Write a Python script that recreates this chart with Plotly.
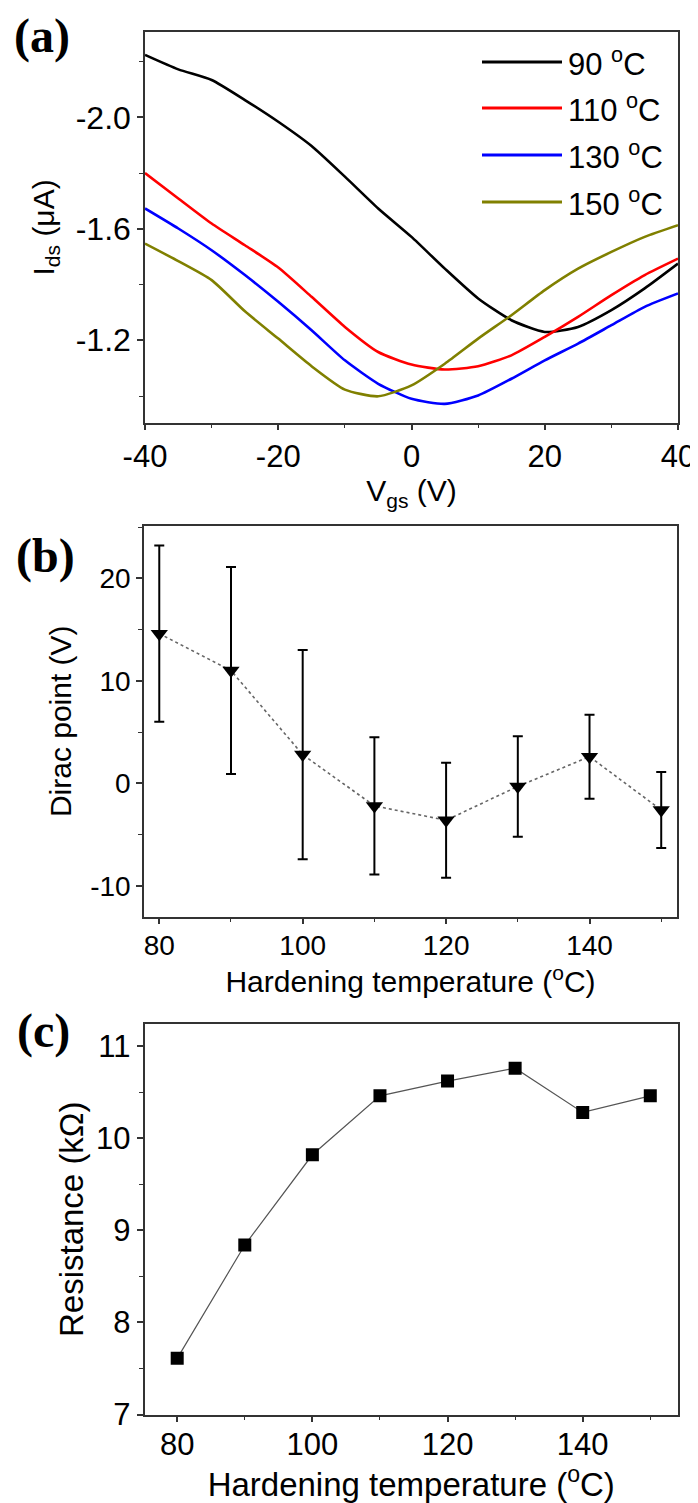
import plotly.graph_objects as go

# the page adds an 8 px body margin, so the figure is drawn 8 px smaller and all
# reference pixel positions are shifted by that offset
OFF = 8
W, H = 698 - OFF, 1503 - OFF

# ---------------- data ----------------
vgs = [-40, -35, -30, -25, -20, -15, -10, -5, 0, 5, 10, 15, 20, 25, 30, 35, 40]
ids_90 = [-2.224, -2.172, -2.134, -2.062, -1.984, -1.897, -1.787, -1.673, -1.571,
          -1.457, -1.350, -1.272, -1.230, -1.248, -1.308, -1.386, -1.475]
ids_110 = [-1.800, -1.709, -1.619, -1.541, -1.461, -1.356, -1.248, -1.158, -1.113,
           -1.095, -1.107, -1.146, -1.212, -1.284, -1.362, -1.434, -1.493]
ids_130 = [-1.673, -1.601, -1.523, -1.434, -1.338, -1.236, -1.128, -1.044, -0.990,
           -0.972, -1.002, -1.062, -1.128, -1.188, -1.254, -1.320, -1.368]
ids_150 = [-1.547, -1.484, -1.416, -1.304, -1.206, -1.107, -1.023, -0.999, -1.038,
           -1.116, -1.206, -1.290, -1.380, -1.457, -1.517, -1.571, -1.613]
series_names = ["90 <sup>o</sup>C", "110 <sup>o</sup>C", "130 <sup>o</sup>C", "150 <sup>o</sup>C"]
series_colors = ["#000000", "#ff0000", "#0000ff", "#808000"]

temps = [80, 90, 100, 110, 120, 130, 140, 150]
dirac = [14.6, 11.0, 2.8, -2.2, -3.6, -0.3, 2.6, -2.6]
dirac_err = [8.6, 10.1, 10.2, 6.7, 5.6, 4.9, 4.1, 3.7]
resistance = [7.61, 8.84, 9.82, 10.46, 10.62, 10.76, 10.28, 10.46]

# tick labels
a_xticks = [-40, -20, 0, 20, 40]
a_xlabels = ["-40", "-20", "0", "20", "40"]
a_yticks = [-2.0, -1.6, -1.2]
a_ylabels = ["-2.0", "-1.6", "-1.2"]
b_xticks = [80, 100, 120, 140]
b_yticks = [-10, 0, 10, 20]
b_ylabels = ["-10", "0", "10", "20"]
c_xticks = [80, 100, 120, 140]
c_yticks = [7, 8, 9, 10, 11]

FONT = "Liberation Sans, Arial, sans-serif"
AX = "#333333"

fig = go.Figure()

for name, col, ys in zip(series_names, series_colors, [ids_90, ids_110, ids_130, ids_150]):
    fig.add_trace(go.Scatter(x=vgs, y=ys, mode="lines", name=name,
                             line=dict(color=col, width=2.6, shape="spline", smoothing=0.6),
                             xaxis="x", yaxis="y", showlegend=False))

fig.add_trace(go.Scatter(x=temps, y=dirac, mode="lines+markers", name="Dirac point",
                         line=dict(color="#666666", width=1.6, dash="dot"),
                         marker=dict(symbol="triangle-down", size=15, color="black"),
                         error_y=dict(type="data", array=dirac_err, visible=True,
                                      color="black", thickness=2, width=5),
                         xaxis="x2", yaxis="y2", showlegend=False))

fig.add_trace(go.Scatter(x=temps, y=resistance, mode="lines+markers", name="Resistance",
                         line=dict(color="#555555", width=1.2),
                         marker=dict(symbol="square", size=13, color="black"),
                         xaxis="x3", yaxis="y3", showlegend=False))


def ax(tickvals, ticktext, mtick0, mdtick, fsize, **kw):
    d = dict(showline=True, linecolor=AX, linewidth=1.5, mirror=True, automargin=False,
             ticks="outside", ticklen=6, tickwidth=1.5, tickcolor=AX,
             showgrid=False, zeroline=False,
             tickmode="array", tickvals=tickvals, ticktext=ticktext,
             minor=dict(tickmode="linear", tick0=mtick0, dtick=mdtick,
                        ticks="outside", ticklen=4, tickwidth=1.3, tickcolor=AX, showgrid=False),
             tickfont=dict(family=FONT, size=fsize, color="black"))
    d.update(kw)
    return d


def px_x(p):
    return (p - OFF) / W


def px_y(p):
    return 1 - (p - OFF) / H


fig.update_layout(
    width=W, height=H, margin=dict(l=0, r=0, t=0, b=0),
    paper_bgcolor="white", plot_bgcolor="white",
    font=dict(family=FONT, color="black"),
    xaxis=ax(a_xticks, a_xlabels, -40, 10, 31,
             domain=[px_x(145), px_x(678)], anchor="y", range=[-40, 40],
             title=dict(text="V<sub>gs</sub> (V)", font=dict(size=30), standoff=2)),
    yaxis=ax(a_yticks, a_ylabels, -2.2, 0.2, 32,
             domain=[px_y(422.5), px_y(32.3)], anchor="x", range=[-0.905, -2.305],
             title=dict(text="I<sub>ds</sub> (μA)", font=dict(size=30), standoff=12)),
    xaxis2=ax(b_xticks, [str(v) for v in b_xticks], 80, 10, 28,
              domain=[px_x(144), px_x(677)], anchor="y2", range=[77.87, 152.2],
              ticklabelstandoff=-3,
              title=dict(text="Hardening temperature (<sup>o</sup>C)", font=dict(size=30), standoff=0)),
    yaxis2=ax(b_yticks, b_ylabels, -10, 5, 28,
              domain=[px_y(916.5), px_y(526)], anchor="x2", range=[-12.99, 25.1],
              title=dict(text="Dirac point (V)", font=dict(size=30), standoff=10)),
    xaxis3=ax(c_xticks, [str(v) for v in c_xticks], 80, 10, 31,
              domain=[px_x(144.5), px_x(678)], anchor="y3", range=[75.16, 154.1],
              ticklabelstandoff=-4,
              title=dict(text="Hardening temperature (<sup>o</sup>C)", font=dict(size=33), standoff=2)),
    yaxis3=ax(c_yticks, [str(v) for v in c_yticks], 7, 0.5, 31,
              domain=[px_y(1414.5), px_y(1024)], anchor="x3", range=[7, 11.24],
              title=dict(text="Resistance (kΩ)", font=dict(size=33), standoff=3)),
)

# panel labels
for lab, cx, cy in [("(a)", 42, 36), ("(b)", 45, 556), ("(c)", 43, 1031)]:
    fig.add_annotation(text=f"<b>{lab}</b>", xref="paper", yref="paper",
                       x=px_x(cx), y=px_y(cy), xanchor="center", yanchor="middle",
                       showarrow=False, font=dict(family="Liberation Serif, Times New Roman, serif",
                                                  size=48, color="black"))

# legend for panel (a)
for i, (name, col) in enumerate(zip(series_names, series_colors)):
    yc = [62, 108, 155, 202][i]
    fig.add_shape(type="line", xref="paper", yref="paper",
                  x0=px_x(482), x1=px_x(562), y0=px_y(yc), y1=px_y(yc),
                  line=dict(color=col, width=3))
    fig.add_annotation(text=name, xref="paper", yref="paper",
                       x=px_x(566), y=px_y(yc), xanchor="left", yanchor="middle",
                       showarrow=False, font=dict(family=FONT, size=31, color="black"))

fig.write_html("out.html")
